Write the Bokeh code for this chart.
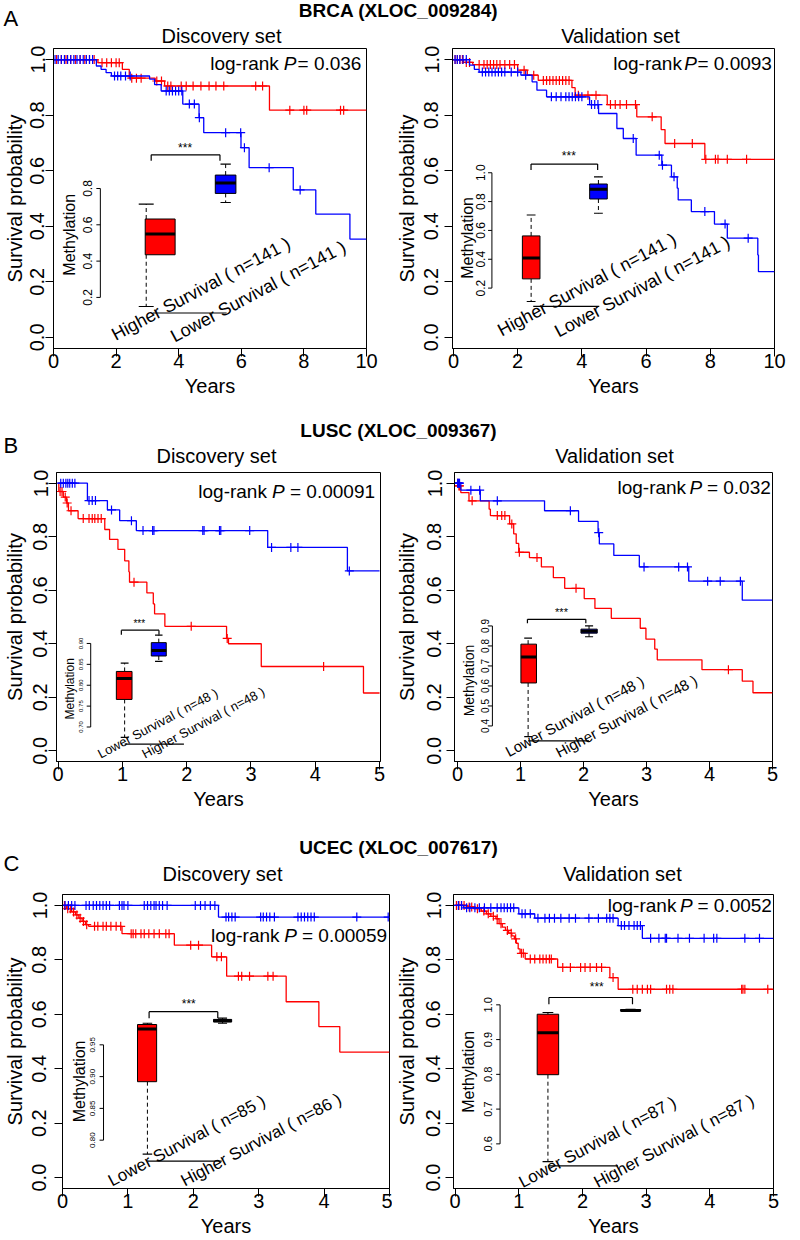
import math
import numpy as np
from bokeh.plotting import figure
from bokeh.layouts import column, row
from bokeh.models import Range1d, FixedTicker, PrintfTickFormatter
from bokeh.core.properties import value
from bokeh.embed import file_html
from bokeh.resources import INLINE

FONT = "Liberation Sans"
RED = "#FF0000"
BLUE = "#0000FF"

# ---------------- DATA ----------------
# A: BRCA discovery
a1_red_t = [0, 1.42, 2.20, 2.42, 3.25, 3.55, 6.90, 10.0]
a1_red_s = [1.0, 0.989, 0.965, 0.933, 0.923, 0.905, 0.818, 0.818]
a1_red_c = [0.1, 0.25, 0.4, 0.55, 0.7, 0.85, 1.0, 1.15, 1.3, 1.55, 1.7, 1.85, 2.0, 2.1,
            2.5, 2.65, 2.8, 3.3, 3.45, 3.65, 3.75, 4.08, 4.24, 4.46, 4.71, 4.97, 5.19,
            5.44, 6.46, 6.68, 7.55, 8.0, 8.09, 9.17, 9.27]
a1_blue_t = [0, 1.37, 1.52, 1.68, 1.85, 3.07, 3.23, 3.44, 4.13, 4.65, 4.80, 5.99, 6.25,
             7.66, 8.38, 9.47, 10.0]
a1_blue_s = [1.0, 0.977, 0.965, 0.953, 0.941, 0.93, 0.91, 0.887, 0.84, 0.791, 0.737,
             0.683, 0.611, 0.531, 0.444, 0.354, 0.354]
a1_blue_c = [0.05, 0.15, 0.25, 0.35, 0.45, 0.55, 0.65, 0.75, 0.85, 0.95, 1.05, 1.15, 1.25,
             1.95, 2.05, 2.15, 2.3, 2.45, 3.6, 3.7, 3.8, 3.9, 4.0, 4.1, 4.34, 4.5, 4.66,
             5.5, 5.98, 6.1, 6.89, 7.88]
a1_meth_red = [0.150, 0.435, 0.549, 0.632, 0.714]
a1_meth_blue = [0.723, 0.773, 0.830, 0.874, 0.934]

# A: BRCA validation
a2_red_t = [0, 0.3, 0.6, 2.0, 2.3, 2.64, 3.69, 3.79, 4.79, 5.71, 6.47, 6.59, 7.83, 10.0]
a2_red_s = [1.0, 0.99, 0.982, 0.962, 0.944, 0.925, 0.899, 0.872, 0.838, 0.794, 0.748,
            0.698, 0.641, 0.641]
a2_red_c = [0.05, 0.12, 0.2, 0.28, 0.4, 0.5, 0.8, 0.95, 1.05, 1.15, 1.25, 1.35, 1.45, 1.6,
            1.75, 1.9, 2.2, 2.5, 2.8, 2.9, 3.0, 3.1, 3.2, 3.3, 3.4, 3.5, 3.6, 3.89, 4.19,
            4.44, 4.89, 5.04, 5.19, 5.39, 5.67, 6.19, 6.89, 7.44, 7.86, 8.16, 8.24, 8.53,
            9.13]
a2_blue_t = [0, 0.5, 0.65, 0.8, 2.1, 2.45, 2.6, 2.9, 4.24, 4.52, 5.09, 5.29, 5.69, 6.49,
             6.79, 6.97, 7.0, 7.41, 8.13, 8.53, 9.48, 9.5, 10.0]
a2_blue_s = [1.0, 0.98, 0.965, 0.955, 0.944, 0.92, 0.89, 0.866, 0.838, 0.806, 0.752, 0.716,
             0.656, 0.62, 0.578, 0.537, 0.495, 0.453, 0.408, 0.357, 0.297, 0.237, 0.237]
a2_blue_c = [0.05, 0.12, 0.2, 0.3, 0.4, 0.9, 1.0, 1.1, 1.2, 1.3, 1.4, 1.5, 1.6, 1.8, 2.0,
             2.25, 3.05, 3.2, 3.35, 3.5, 3.6, 3.7, 3.8, 3.9, 4.0, 4.3, 4.4, 4.5, 5.6, 6.41,
             6.51, 6.87, 7.83, 8.46, 9.18]
a2_meth_red = [0.107, 0.264, 0.408, 0.562, 0.707]
a2_meth_blue = [0.719, 0.818, 0.885, 0.922, 0.972]

# B: LUSC discovery
b1_red_t = [0, 0.01, 0.08, 0.13, 0.16, 0.31, 0.725, 0.80, 0.93, 1.035, 1.10, 1.11, 1.38,
            1.48, 1.50, 1.66, 2.62, 2.65, 3.16, 4.75, 5.0]
b1_red_s = [1.0, 0.969, 0.948, 0.926, 0.897, 0.868, 0.827, 0.79, 0.753, 0.71, 0.669, 0.63,
            0.59, 0.549, 0.512, 0.465, 0.42, 0.40, 0.315, 0.216, 0.216]
b1_red_c = [0.03, 0.06, 0.11, 0.14, 0.2, 0.39, 0.48, 0.53, 0.57, 0.62, 0.67, 1.18, 2.07,
            2.63, 4.13]
b1_blue_t = [0, 0.455, 0.766, 0.957, 1.216, 3.26, 4.50, 5.0]
b1_blue_s = [1.0, 0.935, 0.9, 0.86, 0.823, 0.76, 0.672, 0.672]
b1_blue_c = [0.04, 0.08, 0.12, 0.15, 0.18, 0.22, 0.26, 0.48, 0.53, 0.58, 0.83, 1.14, 1.32,
             1.47, 1.49, 2.25, 2.27, 2.51, 2.53, 2.98, 3.32, 3.62, 3.73, 4.53]
b1_meth_red = [0.675, 0.766, 0.816, 0.833, 0.853]
b1_meth_blue = [0.857, 0.870, 0.883, 0.902, 0.920]

# B: LUSC validation
b2_red_t = [0, 0.01, 0.05, 0.18, 0.50, 0.52, 0.825, 0.89, 0.93, 0.97, 1.14, 1.33, 1.52,
            1.70, 2.01, 2.18, 2.44, 2.90, 2.99, 3.13, 3.17, 3.88, 4.52, 4.69, 5.0]
b2_red_s = [1.0, 0.99, 0.965, 0.934, 0.903, 0.879, 0.848, 0.811, 0.775, 0.742, 0.722,
            0.687, 0.647, 0.607, 0.569, 0.532, 0.495, 0.458, 0.417, 0.38, 0.34, 0.303,
            0.26, 0.217, 0.217]
b2_red_c = [0.0, 0.02, 0.03, 0.23, 0.63, 0.70, 0.75, 0.86, 0.98, 1.26, 1.88, 4.30]
b2_blue_t = [0, 0.05, 0.36, 1.38, 1.92, 2.23, 2.25, 2.48, 2.885, 3.67, 4.52, 5.0]
b2_blue_s = [1.0, 0.974, 0.934, 0.897, 0.857, 0.815, 0.773, 0.73, 0.687, 0.634, 0.563,
             0.563]
b2_blue_c = [0.0, 0.01, 0.02, 0.03, 0.21, 0.35, 0.63, 1.79, 2.24, 2.96, 3.51, 3.65, 3.97,
             4.17, 4.49]
b2_meth_red = [0.347, 0.615, 0.745, 0.809, 0.839]
b2_meth_blue = [0.846, 0.864, 0.874, 0.884, 0.900]

# C: UCEC discovery
c1_red_t = [0, 0.06, 0.14, 0.2, 0.25, 0.3, 0.35, 0.4, 0.91, 1.71, 2.28, 2.51, 3.42, 3.92,
            4.24, 5.0]
c1_red_s = [1.0, 0.988, 0.976, 0.965, 0.953, 0.941, 0.929, 0.923, 0.896, 0.854, 0.811,
            0.74, 0.646, 0.555, 0.461, 0.461]
c1_red_c = [0.03, 0.08, 0.12, 0.17, 0.22, 0.27, 0.32, 0.37, 0.49, 0.54, 0.62, 0.67, 0.74,
            0.82, 0.89, 1.05, 1.08, 1.12, 1.2, 1.25, 1.32, 1.4, 1.48, 1.58, 1.63, 1.96,
            2.08, 2.36, 2.43, 2.69, 2.74, 2.86, 3.14, 3.22]
c1_blue_t = [0, 2.385, 5.0]
c1_blue_s = [1.0, 0.957, 0.957]
c1_blue_c = [0.04, 0.09, 0.14, 0.19, 0.36, 0.41, 0.47, 0.52, 0.57, 0.62, 0.67, 0.72, 0.87,
             0.91, 0.94, 1.0, 1.25, 1.3, 1.35, 1.4, 1.43, 1.48, 1.53, 1.6, 2.03, 2.11,
             2.18, 2.26, 2.33, 2.5, 2.54, 2.59, 2.64, 3.03, 3.07, 3.12, 3.17, 3.24, 3.6,
             3.65, 3.7, 3.75, 3.8, 3.85, 4.5, 4.98]
c1_meth_red = [0.778, 0.892, 0.975, 0.982, 0.984]
c1_meth_blue = [0.984, 0.986, 0.988, 0.990, 0.992]

# C: UCEC validation
c2_red_t = [0, 0.18, 0.31, 0.41, 0.49, 0.56, 0.64, 0.69, 0.74, 0.79, 0.84, 0.89, 0.93,
            0.96, 0.99, 1.02, 1.10, 1.61, 2.43, 2.56, 5.0]
c2_red_s = [1.0, 0.994, 0.988, 0.979, 0.969, 0.96, 0.951, 0.933, 0.92, 0.908, 0.898,
            0.888, 0.877, 0.861, 0.84, 0.824, 0.803, 0.772, 0.735, 0.692, 0.692]
c2_red_c = [0.02, 0.06, 0.1, 0.14, 0.22, 0.26, 0.35, 0.45, 0.52, 0.6, 0.66, 0.72, 0.82,
            0.88, 0.95, 1.04, 1.07, 1.18, 1.25, 1.33, 1.38, 1.43, 1.48, 1.51, 1.69, 1.81,
            1.97, 2.04, 2.12, 2.22, 2.3, 2.48, 2.79, 2.86, 2.94, 3.02, 3.07, 3.32, 3.37,
            3.42, 4.5, 4.52, 4.55, 4.91]
c2_blue_t = [0, 0.13, 1.0, 1.25, 2.56, 2.94, 5.0]
c2_blue_s = [1.0, 0.991, 0.969, 0.953, 0.926, 0.879, 0.879]
c2_blue_c = [0.05, 0.1, 0.18, 0.23, 0.31, 0.38, 0.46, 0.56, 0.66, 0.72, 0.77, 0.82, 0.87,
             0.92, 1.05, 1.1, 1.18, 1.3, 1.41, 1.48, 1.56, 1.66, 1.79, 1.89, 2.1, 2.25,
             2.38, 2.43, 2.48, 2.61, 2.66, 2.73, 2.81, 2.86, 2.91, 3.07, 3.2, 3.3, 3.32,
             3.5, 3.68, 3.91, 4.06, 4.11, 4.55, 4.78]
c2_meth_red = [0.549, 0.799, 0.920, 0.973, 0.978]
c2_meth_blue = [0.982, 0.983, 0.984, 0.986, 0.987]

row_titles = ["BRCA (XLOC_009284)", "LUSC (XLOC_009367)", "UCEC (XLOC_007617)"]
row_letters = ["A", "B", "C"]
set_titles = ["Discovery set", "Validation set"]
pvals = ["= 0.036", "= 0.0093", "= 0.00091", "= 0.032", "= 0.00059", "= 0.0052"]
p_gap = [False, False, True, True, True, True]
grp_labels = [
    ["Higher Survival ( n=141 )", "Lower Survival ( n=141 )"],
    ["Higher Survival ( n=141 )", "Lower Survival ( n=141 )"],
    ["Lower Survival ( n=48 )", "Higher Survival ( n=48 )"],
    ["Lower Survival ( n=48 )", "Higher Survival ( n=48 )"],
    ["Lower Survival ( n=85 )", "Higher Survival ( n=86 )"],
    ["Lower Survival ( n=87 )", "Higher Survival ( n=87 )"],
]
years_ticks_10 = [0, 2, 4, 6, 8, 10]
years_ticks_5 = [0, 1, 2, 3, 4, 5]
surv_ticks = [0.0, 0.2, 0.4, 0.6, 0.8, 1.0]
meth_ticks = [
    [0.2, 0.4, 0.6, 0.8],
    [0.2, 0.4, 0.6, 0.8, 1.0],
    [0.70, 0.75, 0.80, 0.85, 0.90],
    [0.4, 0.5, 0.6, 0.7, 0.8, 0.9],
    [0.80, 0.85, 0.90, 0.95],
    [0.6, 0.7, 0.8, 0.9, 1.0],
]

# ---------------- LAYOUT (reference pixel geometry) ----------------
panels = [
    dict(curves=[(a1_red_t, a1_red_s, a1_red_c, RED), (a1_blue_t, a1_blue_s, a1_blue_c, BLUE)],
         meth=[a1_meth_red, a1_meth_blue], size=(392, 355), borders=(52, 26), xr=(0, 10),
         xticks=years_ticks_10, ref=(52, 31.4, 336.7, 278.0), ys=(1, 2),
         lr=(360.7, 63), mt=0, mfmt="%.1f", maxis=99, mtl=86, mtf=12,
         manch=((0.2, 296.7), (0.8, 187.7)), mlab=(68, 234, 16),
         boxes=[(145, 144, 174), (224.7, 214.3, 235)], br=(154, 150, 219, 160),
         star=(184, 147, 12), hl=(312.3, 151.7, 225.7),
         gl=[(111.7, 335), (170.7, 336.7)], glf=18),
    dict(curves=[(a2_red_t, a2_red_s, a2_red_c, RED), (a2_blue_t, a2_blue_s, a2_blue_c, BLUE)],
         meth=[a2_meth_red, a2_meth_blue], size=(408, 355), borders=(47, 26), xr=(-0.03, 10),
         xticks=years_ticks_10, ref=(440, 33.4, 337.7, 278.4), ys=(6, 4),
         lr=(768.3, 63.3), mt=1, mfmt="%.1f", maxis=480, mtl=468, mtf=12,
         manch=((0.2, 288.3), (1.0, 172.7)), mlab=(455, 238, 16),
         boxes=[(520.8, 511.7, 530), (590.8, 581.7, 600)], br=(164, 520.7, 590, 170),
         star=(560, 156, 12), hl=(306.7, 523, 591.7),
         gl=[(487.3, 331.7), (546.7, 332.7)], glf=18),
    dict(curves=[(b1_red_t, b1_red_s, b1_red_c, RED), (b1_blue_t, b1_blue_s, b1_blue_c, BLUE)],
         meth=[b1_meth_red, b1_meth_blue], size=(392, 344), borders=(55, 12), xr=(-0.026, 5.015),
         xticks=years_ticks_5, ref=(56.7, 64.4, 750, 270), ys=(1, 5),
         lr=(374, 488.3), mt=2, mfmt="%.2f", maxis=89.3, mtl=80, mtf=6,
         manch=((0.70, 726), (0.90, 641.7)), mlab=(68.3, 687.5, 12),
         boxes=[(123.3, 115, 130.7), (157.5, 150, 165)], br=(628.3, 120, 157.7, 633),
         star=(138, 622, 10), hl=(743.3, 123.3, 182.7),
         gl=[(97.3, 754), (141.7, 754)], glf=13),
    dict(curves=[(b2_red_t, b2_red_s, b2_red_c, RED), (b2_blue_t, b2_blue_s, b2_blue_c, BLUE)],
         meth=[b2_meth_red, b2_meth_blue], size=(408, 344), borders=(53, 28), xr=(-0.05, 5.0),
         xticks=years_ticks_5, ref=(448.3, 64.7, 751.7, 269.4), ys=(5, 7),
         lr=(768.3, 486.7), mt=3, mfmt="%.1f", maxis=484, mtl=476, mtf=10,
         manch=((0.4, 726.7), (0.9, 626)), mlab=(460, 681, 14),
         boxes=[(520.7, 513.3, 529.3), (583.3, 575, 591.7)], br=(619.3, 520, 580, 623.3),
         star=(555, 612, 11), hl=(741.7, 520.7, 583.3),
         gl=[(498.3, 753.3), (550, 754)], glf=15),
    dict(curves=[(c1_red_t, c1_red_s, c1_red_c, RED), (c1_blue_t, c1_blue_s, c1_blue_c, BLUE)],
         meth=[c1_meth_red, c1_meth_blue], size=(392, 349), borders=(59, 3), xr=(0, 5.0),
         xticks=years_ticks_5, ref=(59.3, 66.0, 1178.3, 273.3), ys=(8, 4),
         lr=(386, 935), mt=4, mfmt="%.2f", maxis=100.7, mtl=90, mtf=8,
         manch=((0.80, 1140.7), (0.95, 1045)), mlab=(76.7, 1081.7, 16),
         boxes=[(145, 135, 154.3), (220.8, 211.7, 230)], br=(1011.7, 146.7, 216, 1018.3),
         star=(186.7, 1004, 12), hl=(1161.7, 145, 220),
         gl=[(106.7, 1182.7), (180, 1182.7)], glf=17),
    dict(curves=[(c2_red_t, c2_red_s, c2_red_c, RED), (c2_blue_t, c2_blue_s, c2_blue_c, BLUE)],
         meth=[c2_meth_red, c2_meth_blue], size=(408, 349), borders=(53, 27), xr=(-0.026, 5.0),
         xticks=years_ticks_5, ref=(446.7, 65.2, 1179.3, 271.0), ys=(5, 6),
         lr=(769.3, 908.3), mt=5, mfmt="%.1f", maxis=492.7, mtl=480, mtf=11,
         manch=((0.6, 1145.7), (1.0, 1007.3)), mlab=(460, 1074, 16),
         boxes=[(541.7, 530.7, 552.7), (626.3, 616, 636.7)], br=(1000, 542.7, 628.3, 1006.7),
         star=(591.7, 990, 12), hl=(1167.7, 541.7, 613.3),
         gl=[(513.3, 1185), (590, 1185)], glf=17),
]

Y0, Y1 = -0.04, 1.04
LR_SIZE = 19
# Arial / Liberation Sans advance widths (em) for the characters of the log-rank note
ADV = {"0": .556, "1": .556, "2": .556, "3": .556, "4": .556, "5": .556, "6": .556,
       "7": .556, "8": .556, "9": .556, ".": .278, "=": .584, " ": .278, "l": .222,
       "o": .556, "g": .556, "-": .333, "r": .333, "a": .556, "n": .556, "k": .5, "P": .667}


def tw(s, size):
    return sum(ADV.get(ch, .556) for ch in s) * size


def km_at(t, s, c):
    t = np.asarray(t, float)
    s = np.asarray(s, float)
    idx = np.clip(np.searchsorted(t, np.asarray(c, float), side="right") - 1, 0, len(s) - 1)
    return s[idx]


def txt(p, x, y, t, size, **kw):
    p.text(x=[x], y=[y], text=[t], text_font=value(FONT), text_font_size=value(size),
           text_color="black", **kw)


def make_panel(i, cfg):
    W, H = cfg["size"]
    bl, brd = cfg["borders"]
    p = figure(width=W, height=H, x_range=Range1d(*cfg["xr"]), y_range=Range1d(Y0, Y1),
               toolbar_location=None, output_backend="svg",
               min_border_left=bl, min_border_right=brd, min_border_top=3, min_border_bottom=52)
    p.grid.visible = False
    p.outline_line_color = "black"
    p.outline_line_width = 1
    p.background_fill_color = "white"
    p.border_fill_color = "white"

    for ax in (p.xaxis[0], p.yaxis[0]):
        ax.major_tick_out = 8
        ax.major_tick_in = 0
        ax.minor_tick_out = 0
        ax.minor_tick_in = 0
        ax.axis_line_color = "black"
        ax.major_tick_line_color = "black"
        ax.major_label_text_font = FONT
        ax.major_label_text_font_size = "20px"
        ax.major_label_text_color = "black"
        ax.axis_label_text_font = FONT
        ax.axis_label_text_font_style = "normal"
        ax.axis_label_text_color = "black"
        ax.axis_label_text_font_size = "20px"
    xa = p.xaxis[0]
    xa.ticker = FixedTicker(ticks=cfg["xticks"])
    xa.axis_label = "Years"
    xa.major_label_standoff = -3
    xa.axis_label_standoff = 4
    ya = p.yaxis[0]
    ya.ticker = FixedTicker(ticks=surv_ticks)
    ya.formatter = PrintfTickFormatter(format="%.1f")
    ya.major_label_orientation = "parallel"
    ya.axis_label = "Survival probability"
    ya.major_label_standoff = cfg["ys"][0]
    ya.axis_label_standoff = cfg["ys"][1]

    rx0, rpx, ry0, rpy = cfg["ref"]
    X = lambda px: (px - rx0) / rpx
    Y = lambda py: (ry0 - py) / rpy

    # KM curves
    for t, s, c, col in cfg["curves"]:
        p.step(x=t, y=s, mode="after", line_color=col, line_width=1.3)
        p.scatter(x=c, y=km_at(t, s, c), marker="cross", size=9, line_color=col, line_width=1.2)

    # log-rank note, laid out from its right end
    xr_end, yc = cfg["lr"]
    v_left = xr_end - tw(pvals[i], LR_SIZE)
    p_left = v_left - tw("P", LR_SIZE) - (tw(" ", LR_SIZE) if p_gap[i] else 1)
    l_left = p_left - tw(" ", LR_SIZE) - tw("log-rank", LR_SIZE)
    sz = "%dpx" % LR_SIZE
    txt(p, X(l_left), Y(yc), "log-rank", sz, text_align="left", text_baseline="middle")
    txt(p, X(p_left), Y(yc), "P", sz, text_align="left", text_baseline="middle",
        text_font_style="italic")
    txt(p, X(v_left), Y(yc), pvals[i], sz, text_align="left", text_baseline="middle")

    # inset: methylation scale as an extra y range
    (m1, p1), (m2, p2) = cfg["manch"]
    k = (m2 - m1) / (p1 - p2)
    mfun = lambda py: m1 + (p1 - py) * k
    p.extra_y_ranges = {"meth": Range1d(mfun(ry0 - Y0 * rpy), mfun(ry0 - Y1 * rpy))}
    ticks = meth_ticks[cfg["mt"]]
    ax_x = X(cfg["maxis"])
    p.segment(x0=[ax_x], y0=[ticks[0]], x1=[ax_x], y1=[ticks[-1]], line_color="black",
              line_width=1, y_range_name="meth")
    p.segment(x0=[ax_x] * len(ticks), y0=ticks, x1=[X(cfg["maxis"] - 4)] * len(ticks), y1=ticks,
              line_color="black", line_width=1, y_range_name="meth")
    p.text(x=[X(cfg["mtl"])] * len(ticks), y=ticks, text=[cfg["mfmt"] % v for v in ticks],
           angle=math.pi / 2, text_font=value(FONT), text_font_size=value("%dpx" % cfg["mtf"]),
           text_align="center", text_baseline="middle", text_color="black", y_range_name="meth")
    mlx, mly, mlf = cfg["mlab"]
    txt(p, X(mlx), Y(mly), "Methylation", "%dpx" % mlf, angle=math.pi / 2,
        text_align="center", text_baseline="middle")

    for (wpx, lpx, rpx_), stats, col in zip(cfg["boxes"], cfg["meth"], [RED, BLUE]):
        lo, q1, med, q3, hi = stats
        wx = X(wpx)
        capw = (rpx_ - lpx) * 0.25
        p.segment(x0=[wx, wx], y0=[q3, q1], x1=[wx, wx], y1=[hi, lo], line_color="black",
                  line_width=1, line_dash="4 3", y_range_name="meth")
        p.segment(x0=[X(wpx - capw)] * 2, y0=[hi, lo], x1=[X(wpx + capw)] * 2, y1=[hi, lo],
                  line_color="black", line_width=1.2, y_range_name="meth")
        p.quad(left=[X(lpx)], right=[X(rpx_)], bottom=[q1], top=[q3], fill_color=col,
               line_color="black", line_width=1, y_range_name="meth")
        p.segment(x0=[X(lpx)], y0=[med], x1=[X(rpx_)], y1=[med], line_color="black",
                  line_width=3, y_range_name="meth")

    by, bx1, bx2, bty = cfg["br"]
    p.segment(x0=[X(bx1), X(bx1), X(bx2)], y0=[Y(by), Y(by), Y(by)],
              x1=[X(bx2), X(bx1), X(bx2)], y1=[Y(by), Y(bty), Y(bty)],
              line_color="black", line_width=1.2)
    sx, sy, sf = cfg["star"]
    txt(p, X(sx), Y(sy), "***", "%dpx" % sf, text_align="center", text_baseline="middle")
    hy, hx1, hx2 = cfg["hl"]
    p.segment(x0=[X(hx1)], y0=[Y(hy)], x1=[X(hx2)], y1=[Y(hy)], line_color="black",
              line_width=1.2)
    for (gx, gy), lab in zip(cfg["gl"], grp_labels[i]):
        txt(p, X(gx), Y(gy), lab, "%dpx" % cfg["glf"], angle=math.radians(28),
            text_align="left", text_baseline="alphabetic")
    return p


def header(h, items):
    p = figure(width=800, height=h, x_range=Range1d(0, 800), y_range=Range1d(h, 0),
               toolbar_location=None, output_backend="svg", min_border=0,
               x_axis_location=None, y_axis_location=None)
    p.grid.visible = False
    p.outline_line_color = None
    for t, x, y, size, style, align in items:
        txt(p, x, y, t, size, text_font_style=style, text_align=align, text_baseline="middle")
    return p


# header heights and text rows (letter y, title y, subtitle y) in header coordinates
head_geom = [(45, 18, 10, 35), (69, 45, 30, 55), (78, 50, 34, 60)]
sub_x = [(221, 620), (216, 614), (222, 622)]
title_x = [398, 398, 398]

children = []
for r in range(3):
    h, ly, ty, sy = head_geom[r]
    items = [(row_letters[r], 3, ly, "22px", "normal", "left"),
             (row_titles[r], title_x[r], ty, "19px", "bold", "center"),
             (set_titles[0], sub_x[r][0], sy, "20px", "normal", "center"),
             (set_titles[1], sub_x[r][1], sy, "20px", "normal", "center")]
    children.append(header(h, items))
    children.append(row(make_panel(2 * r, panels[2 * r]), make_panel(2 * r + 1, panels[2 * r + 1])))

layout = column(*children)
open("out.html", "w").write(file_html(layout, INLINE))
